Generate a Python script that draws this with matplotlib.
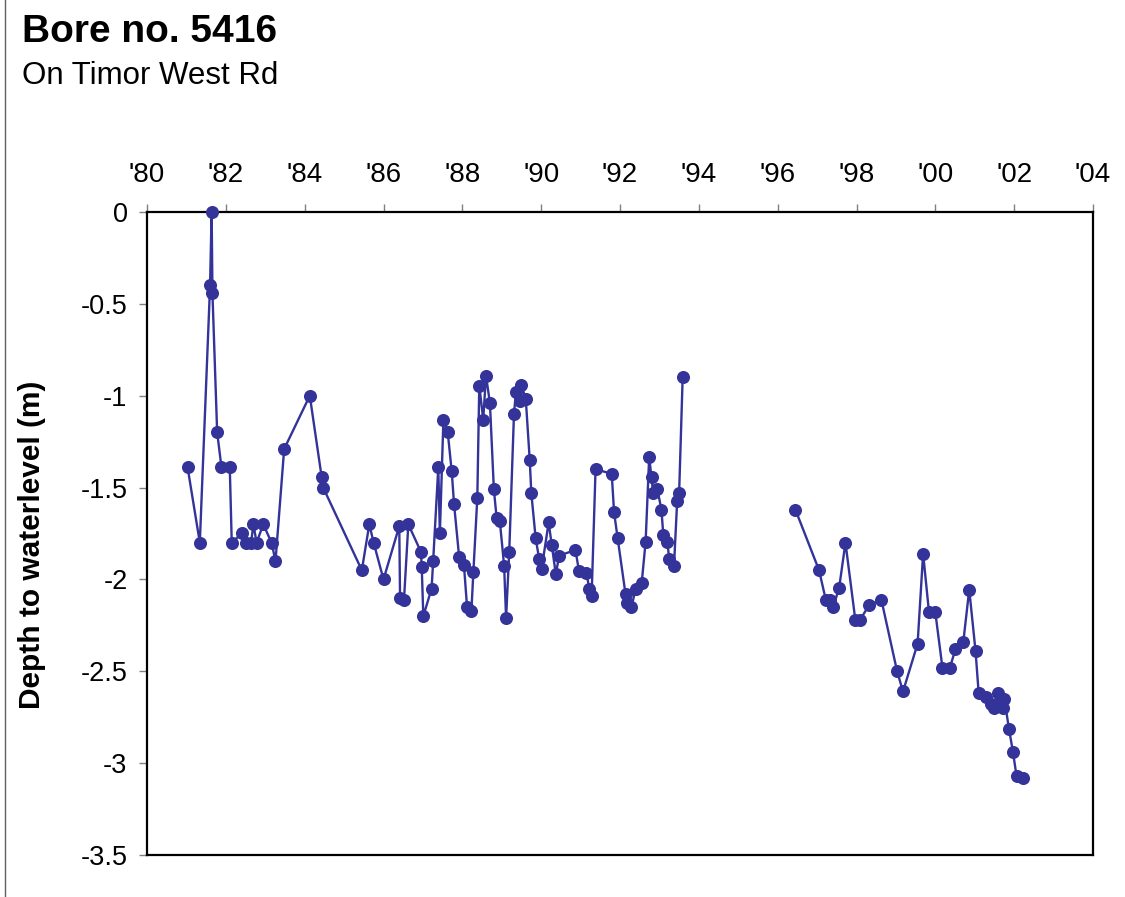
import numpy as np
import matplotlib
matplotlib.use('Agg')
import matplotlib.pyplot as plt

# decimal year of each reading, nan marks the gap in records
years = [1981.03, 1981.34, 1981.60, 1981.64, 1981.66, 1981.78, 1981.89, 1982.10,
         1982.15, 1982.40, 1982.52, 1982.64, 1982.70, 1982.78, 1982.95, 1983.16,
         1983.26, 1983.48, 1984.13, 1984.43, 1984.47, 1985.45, 1985.64, 1985.75,
         1986.00, 1986.40, 1986.42, 1986.52, 1986.63, 1986.95, 1986.97, 1987.01,
         1987.22, 1987.26, 1987.39, 1987.43, 1987.52, 1987.63, 1987.73, 1987.79,
         1987.92, 1988.04, 1988.12, 1988.23, 1988.28, 1988.38, 1988.43, 1988.53,
         1988.60, 1988.70, 1988.80, 1988.87, 1988.95, 1989.06, 1989.11, 1989.19,
         1989.31, 1989.36, 1989.46, 1989.50, 1989.61, 1989.71, 1989.75, 1989.86,
         1989.95, 1990.01, 1990.19, 1990.27, 1990.37, 1990.46, 1990.87, 1990.96,
         1991.15, 1991.22, 1991.28, 1991.38, 1991.79, 1991.85, 1991.94, 1992.14,
         1992.18, 1992.29, 1992.40, 1992.55, 1992.65, 1992.74, 1992.80, 1992.84,
         1992.95, 1993.05, 1993.10, 1993.20, 1993.25, 1993.37, 1993.45, 1993.50,
         1993.59, np.nan,
         1996.45, 1997.05, 1997.22, 1997.34, 1997.41, 1997.56, 1997.72, 1997.97,
         1998.09, 1998.32, 1998.63, 1999.03, 1999.18, 1999.55, 1999.69, 1999.84,
         2000.00, 2000.18, 2000.37, 2000.51, 2000.71, 2000.86, 2001.02, 2001.10,
         2001.28, 2001.40, 2001.48, 2001.58, 2001.66, 2001.72, 2001.75, 2001.87,
         2001.97, 2002.06, 2002.23]

depth = [-1.39, -1.80, -0.40, 0.00, -0.44, -1.20, -1.39, -1.39,
         -1.80, -1.75, -1.80, -1.80, -1.70, -1.80, -1.70, -1.80,
         -1.90, -1.29, -1.00, -1.44, -1.50, -1.95, -1.70, -1.80,
         -2.00, -1.71, -2.10, -2.11, -1.70, -1.85, -1.93, -2.20,
         -2.05, -1.90, -1.39, -1.75, -1.13, -1.20, -1.41, -1.59,
         -1.88, -1.92, -2.15, -2.17, -1.96, -1.555, -0.945, -1.13,
         -0.89, -1.04, -1.51, -1.665, -1.68, -1.925, -2.21, -1.85,
         -1.10, -0.98, -1.03, -0.94, -1.02, -1.35, -1.53, -1.775,
         -1.89, -1.945, -1.69, -1.815, -1.97, -1.87, -1.84, -1.955,
         -1.965, -2.05, -2.09, -1.40, -1.425, -1.635, -1.775, -2.08,
         -2.13, -2.15, -2.05, -2.02, -1.795, -1.335, -1.445, -1.53,
         -1.51, -1.62, -1.76, -1.795, -1.89, -1.925, -1.575, -1.53,
         -0.90, np.nan,
         -1.62, -1.95, -2.11, -2.11, -2.15, -2.045, -1.80, -2.22,
         -2.22, -2.14, -2.11, -2.50, -2.61, -2.35, -1.86, -2.18,
         -2.18, -2.48, -2.48, -2.38, -2.34, -2.055, -2.39, -2.62,
         -2.64, -2.68, -2.70, -2.62, -2.68, -2.70, -2.65, -2.815,
         -2.94, -3.07, -3.08]

x_ticks = list(range(1980, 2005, 2))
x_labels = ["'" + str(y)[2:] for y in x_ticks]
y_ticks = [0, -0.5, -1, -1.5, -2, -2.5, -3, -3.5]
y_labels = ['0', '-0.5', '-1', '-1.5', '-2', '-2.5', '-3', '-3.5']

plt.rcParams['font.family'] = ['Liberation Sans', 'DejaVu Sans']

fig = plt.figure(figsize=(11.25, 8.97), dpi=100)
ax = fig.add_axes([147 / 1125, 1 - 855 / 897, 946 / 1125, 643 / 897])

ax.plot(years, depth, color='#333399', lw=1.7, marker='o', ms=9.4,
        markeredgewidth=0, clip_on=False, zorder=3)

ax.set_xlim(1980, 2004)
ax.set_ylim(-3.5, 0)
ax.xaxis.tick_top()
ax.set_xticks(x_ticks)
ax.set_xticklabels(x_labels)
ax.set_yticks(y_ticks)
ax.set_yticklabels(y_labels)
ax.tick_params(axis='x', direction='out', length=6, width=1, color='#808080',
               labelsize=20, pad=11)
ax.tick_params(axis='y', direction='out', length=6, width=1, color='#808080',
               labelsize=19.5, pad=8)
for s in ax.spines.values():
  s.set_linewidth(1.6)
  s.set_color('black')

ax.set_ylabel('Depth to waterlevel (m)', fontsize=21.5, fontweight='bold')
ax.yaxis.set_label_coords((46 - 147) / 946, 1 - (545 - 212) / 643)

fig.text(22 / 1125, 1 - 32 / 897, 'Bore no. 5416', fontsize=28,
         fontweight='bold', va='center', ha='left')
fig.text(22 / 1125, 1 - 76 / 897, 'On Timor West Rd', fontsize=22.5,
         va='center', ha='left')

# left edge of the outer frame
fig.add_artist(plt.Line2D([5 / 1125, 5 / 1125], [0, 1], color='#606060',
                          lw=1, transform=fig.transFigure))

fig.savefig('out.png', dpi=100)
